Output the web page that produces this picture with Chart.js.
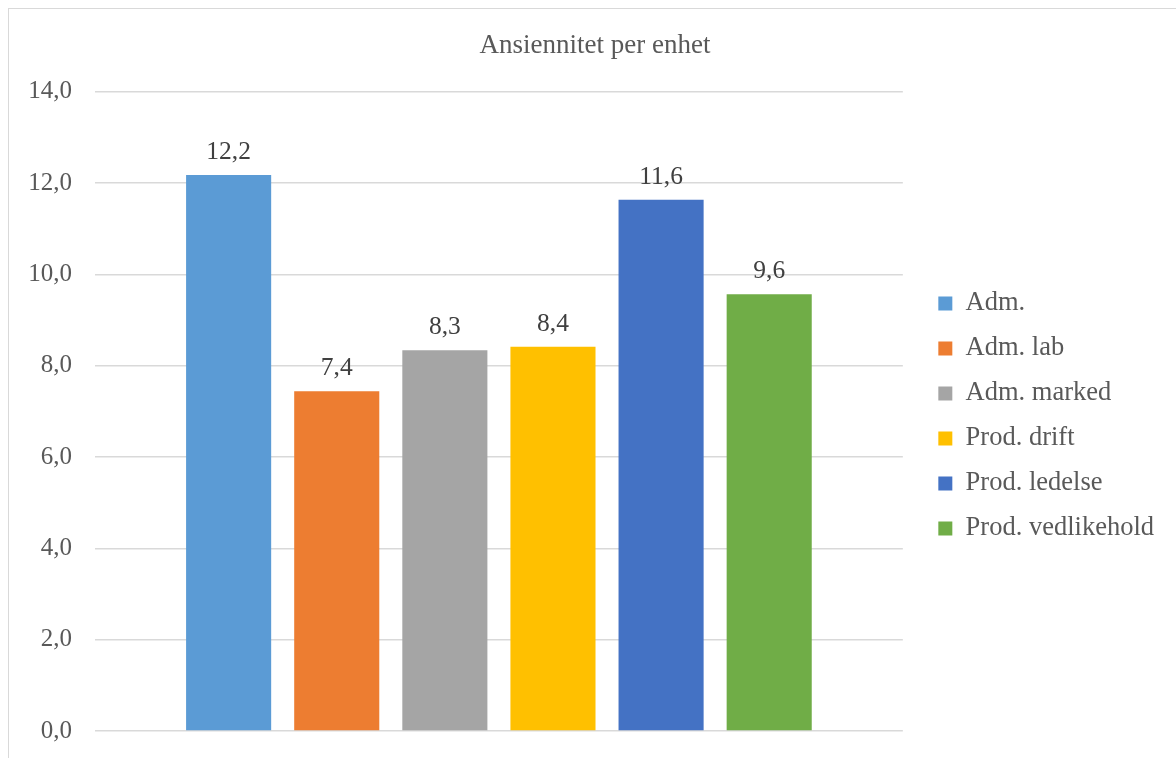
<!DOCTYPE html>
<html>
<head>
<meta charset="utf-8">
<script src="https://cdn.jsdelivr.net/npm/chart.js@4"></script>
<style>
  html, body { margin: 0; padding: 0; background: #fff; overflow: hidden; }
  #wrap {
    position: absolute; left: 8px; top: 8px;
    border-left: 1px solid #d9d9d9; border-top: 1px solid #d9d9d9;
    width: 1167px; height: 749px;
  }
</style>
</head>
<body>
<div id="wrap"><canvas id="chart" width="1167" height="749"></canvas></div>
<script>
// data
var categories = ['Ansiennitet'];
var units = ['Adm.', 'Adm. lab', 'Adm. marked', 'Prod. drift', 'Prod. ledelse', 'Prod. vedlikehold'];
var values = [12.18, 7.44, 8.34, 8.42, 11.64, 9.57];
var colors = ['#5B9BD5', '#ED7D31', '#A5A5A5', '#FFC000', '#4472C4', '#70AD47'];
var yTicks = [0, 2, 4, 6, 8, 10, 12, 14];

var serif = '"Liberation Serif", "Times New Roman", serif';

function komma(v) {
  return Number(v).toFixed(1).replace('.', ',');
}

// verdier over stolpene
var barLabels = {
  id: 'barLabels',
  afterDatasetsDraw: function (chart) {
    var ctx = chart.ctx;
    ctx.save();
    ctx.font = '25.5px ' + serif;
    ctx.fillStyle = '#404040';
    ctx.textAlign = 'center';
    ctx.textBaseline = 'bottom';
    chart.data.datasets.forEach(function (ds, i) {
      var meta = chart.getDatasetMeta(i);
      meta.data.forEach(function (bar, j) {
        ctx.fillText(komma(ds.data[j]), bar.x, bar.y - 10);
      });
    });
    ctx.restore();
  }
};

// flytt legende og tittel litt, som i Excel
var nudge = {
  id: 'nudge',
  afterLayout: function (chart) {
    var lg = chart.legend;
    lg.left += 17; lg.right += 17;
    lg.top += 46; lg.bottom += 46;
    var t = chart.titleBlock;
    t.left += 17; t.right += 17;
  }
};

var datasets = units.map(function (u, i) {
  return {
    label: u,
    data: [values[i]],
    backgroundColor: colors[i],
    borderWidth: 0,
    categoryPercentage: 0.803,
    barPercentage: 0.787
  };
});

var config = {
  type: 'bar',
  data: { labels: categories, datasets: datasets },
  options: {
    responsive: false,
    animation: false,
    layout: { padding: { left: 0, right: 29, top: 0, bottom: 27 } },
    plugins: {
      title: {
        display: true,
        text: 'Ansiennitet per enhet',
        color: '#595959',
        font: { family: serif, size: 27, weight: 'normal' },
        padding: { top: 20.5, bottom: 30 }
      },
      legend: {
        position: 'right',
        labels: {
          color: '#595959',
          font: { family: serif, size: 26.5 },
          boxWidth: 14,
          boxHeight: 14,
          padding: 18.5
        }
      },
      tooltip: { enabled: false }
    },
    scales: {
      x: { display: false },
      y: {
        min: 0,
        max: 14,
        afterBuildTicks: function (s) {
          s.ticks = yTicks.map(function (v) { return { value: v }; });
        },
        afterFit: function (s) {
          s.width = 86;
          s.paddingTop = 0;
          s.paddingBottom = 0;
        },
        border: { display: false },
        grid: { color: '#d9d9d9', lineWidth: 1.5, drawTicks: false },
        ticks: {
          color: '#595959',
          font: { family: serif, size: 25 },
          padding: 23,
          callback: function (v) { return komma(v); }
        }
      }
    }
  },
  plugins: [barLabels, nudge]
};

var chart = new Chart(document.getElementById('chart'), config);
</script>
</body>
</html>
